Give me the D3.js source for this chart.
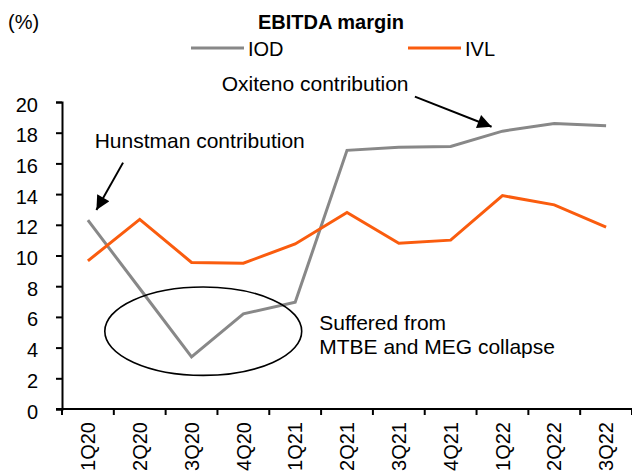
<!DOCTYPE html>
<html>
<head>
<meta charset="utf-8">
<script src="https://cdn.jsdelivr.net/npm/d3@7"></script>
<style>
  body { margin: 0; background: #fff; }
  text { font-family: Arial, 'Liberation Sans', sans-serif; fill: #000; }
</style>
</head>
<body>
<div id="chart"></div>
<script>
const quarters = ['1Q20', '2Q20', '3Q20', '4Q20', '1Q21', '2Q21', '3Q21', '4Q21', '1Q22', '2Q22', '3Q22']
const iod = [12.3, 7.85, 3.4, 6.2, 6.95, 16.85, 17.05, 17.1, 18.1, 18.6, 18.45]
const ivl = [9.65, 12.35, 9.55, 9.5, 10.75, 12.8, 10.8, 11.0, 13.9, 13.3, 11.85]
const yTicks = [0, 2, 4, 6, 8, 10, 12, 14, 16, 18, 20]

const series = [
  { name: 'IOD', values: iod, color: '#888888' },
  { name: 'IVL', values: ivl, color: '#fa5c0e' }
]

const width = 632
const height = 475
const margin = { top: 102, left: 62, right: 0, bottom: 66 }

const svg = d3
  .select('#chart')
  .append('svg')
  .attr('width', width)
  .attr('height', height)

const x = d3
  .scaleBand()
  .domain(quarters)
  .range([margin.left, width - margin.right])

const y = d3
  .scaleLinear()
  .domain([0, 20])
  .range([height - margin.bottom, margin.top])

// position in "category index" units, for annotations
const xi = i => x(quarters[0]) + x.bandwidth() / 2 + i * x.step()

// axes
const yAxis = svg
  .append('g')
  .attr('transform', `translate(${margin.left},0)`)
  .call(d3.axisLeft(y).tickValues(yTicks).tickSize(6).tickPadding(18))
yAxis.select('.domain').attr('stroke', '#000').attr('stroke-width', 2)
yAxis.selectAll('.tick line').attr('stroke', '#000').attr('stroke-width', 2)
yAxis.selectAll('.tick text').style('font-size', '20px').attr('dy', '0.45em')

const xAxis = svg
  .append('g')
  .attr('transform', `translate(0,${y(0)})`)
  .call(d3.axisBottom(x).tickSize(0).tickSizeOuter(0))
xAxis.select('.domain').attr('stroke', '#000').attr('stroke-width', 2)
  .attr('d', `M${margin.left - 6},0H${width}`)
xAxis
  .selectAll('.tick text')
  .style('font-size', '20px')
  .attr('transform', 'rotate(-90)')
  .attr('text-anchor', 'end')
  .attr('x', -13)
  .attr('y', 0)
  .attr('dy', '0.36em')

// category boundary ticks
svg
  .append('g')
  .selectAll('line')
  .data(quarters.concat(['end']))
  .enter()
  .append('line')
  .attr('x1', (d, i) => margin.left + i * x.step())
  .attr('x2', (d, i) => margin.left + i * x.step())
  .attr('y1', y(0))
  .attr('y2', y(0) + 6)
  .attr('stroke', '#000')
  .attr('stroke-width', 2)

// lines
const line = d3
  .line()
  .x((d, i) => x(quarters[i]) + x.bandwidth() / 2)
  .y(d => y(d))

svg
  .selectAll('.series')
  .data(series)
  .enter()
  .append('path')
  .attr('class', 'series')
  .attr('fill', 'none')
  .attr('stroke', d => d.color)
  .attr('stroke-width', 3)
  .attr('stroke-linejoin', 'miter')
  .attr('d', d => line(d.values))

// title + units
svg.append('text')
  .attr('x', 331).attr('y', 29)
  .attr('text-anchor', 'middle')
  .style('font-size', '20px').style('font-weight', 'bold')
  .text('EBITDA margin')

svg.append('text')
  .attr('x', 8).attr('y', 29)
  .style('font-size', '20px')
  .text('(%)')

// legend
const legendX = [191, 408]
const legend = svg
  .selectAll('.legend')
  .data(series)
  .enter()
  .append('g')
  .attr('class', 'legend')
  .attr('transform', (d, i) => `translate(${legendX[i]},48)`)
legend.append('line')
  .attr('x1', 0).attr('x2', 53)
  .attr('stroke', d => d.color)
  .attr('stroke-width', 3)
legend.append('text')
  .attr('x', 57).attr('y', 8)
  .style('font-size', '20px')
  .text(d => d.name)

// annotations
svg.append('defs')
  .append('marker')
  .attr('id', 'arrow')
  .attr('viewBox', '0 0 10 10')
  .attr('refX', 10).attr('refY', 5)
  .attr('markerUnits', 'userSpaceOnUse')
  .attr('markerWidth', 16).attr('markerHeight', 14)
  .attr('orient', 'auto')
  .append('path')
  .attr('d', 'M0,0L10,5L0,10Z')
  .attr('fill', '#000')

const arrows = [
  { from: [0.678, 16.05], to: [0.164, 12.97] },
  { from: [6.31, 20.35], to: [7.79, 18.39] }
]
svg.selectAll('.arrow')
  .data(arrows)
  .enter()
  .append('line')
  .attr('class', 'arrow')
  .attr('x1', d => xi(d.from[0])).attr('y1', d => y(d.from[1]))
  .attr('x2', d => xi(d.to[0])).attr('y2', d => y(d.to[1]))
  .attr('stroke', '#000')
  .attr('stroke-width', 2)
  .attr('marker-end', 'url(#arrow)')

svg.append('ellipse')
  .attr('cx', xi(2.226)).attr('cy', y(5.07))
  .attr('rx', 1.9 * x.step()).attr('ry', y(0) - y(2.88))
  .attr('fill', 'none')
  .attr('stroke', '#000')
  .attr('stroke-width', 1.6)

const notes = [
  { text: 'Hunstman contribution', at: [0.13, 16.99] },
  { text: 'Oxiteno contribution', at: [2.583, 20.74] },
  { text: 'Suffered from', at: [4.464, 5.12] },
  { text: 'MTBE and MEG collapse', at: [4.464, 3.6] }
]
svg.selectAll('.note')
  .data(notes)
  .enter()
  .append('text')
  .attr('class', 'note')
  .attr('x', d => xi(d.at[0]))
  .attr('y', d => y(d.at[1]))
  .style('font-size', '21px')
  .text(d => d.text)
</script>
</body>
</html>
